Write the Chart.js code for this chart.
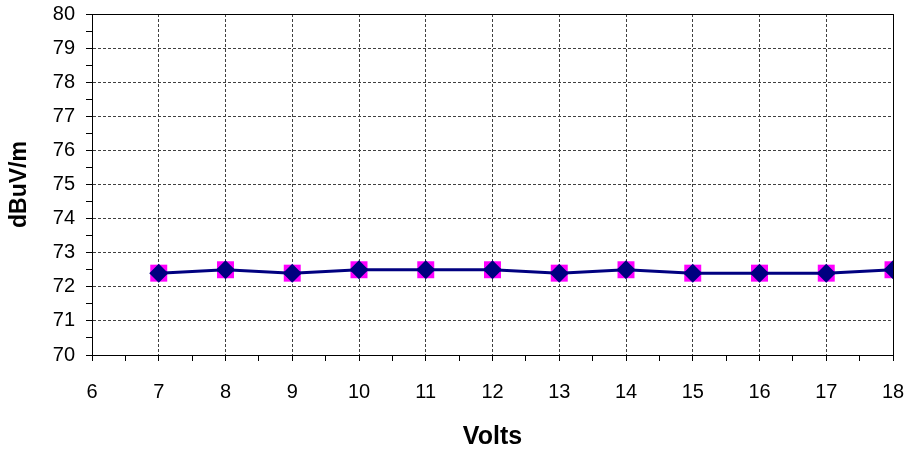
<!DOCTYPE html>
<html>
<head>
<meta charset="utf-8">
<script src="https://cdn.jsdelivr.net/npm/chart.js@4/dist/chart.umd.min.js"></script>
<style>
  html, body { margin: 0; padding: 0; background: #fff; }
  #wrap { width: 910px; height: 452px; }
</style>
</head>
<body>
<div id="wrap"><canvas id="voltChart" width="910" height="452"></canvas></div>
<script>
const volts = [7, 8, 9, 10, 11, 12, 13, 14, 15, 16, 17, 18];
const fieldStrength = [72.4, 72.5, 72.4, 72.5, 72.5, 72.5, 72.4, 72.5, 72.4, 72.4, 72.4, 72.5];
const xRange = [6, 18];
const yRange = [70, 80];

const points = volts.map((v, i) => ({ x: v, y: fieldStrength[i] }));

const gridColor = "#404040";
const fontFamily = "'Liberation Sans', Arial, sans-serif";
const isMajor = (ctx) => Number.isInteger(ctx.tick?.value);

// solid frame on the top and right edges of the plot
const framePlugin = {
  id: "frame",
  afterDraw(chart) {
    const { ctx, chartArea: a } = chart;
    ctx.save();
    ctx.strokeStyle = "#000";
    ctx.lineWidth = 1;
    ctx.beginPath();
    ctx.moveTo(a.left, a.top + 0.5);
    ctx.lineTo(a.right + 0.5, a.top + 0.5);
    ctx.lineTo(a.right + 0.5, a.bottom);
    ctx.stroke();
    ctx.restore();
  }
};

new Chart(document.querySelector("#voltChart"), {
  type: "line",
  data: {
    datasets: [
      {
        data: points,
        borderColor: "#000080",
        borderWidth: 3,
        pointStyle: "rectRot",
        pointRadius: 9.5,
        pointBackgroundColor: "#000080",
        pointBorderWidth: 0,
        tension: 0,
        order: 1
      },
      {
        data: points,
        showLine: false,
        pointStyle: "rect",
        pointRadius: 12,
        pointBackgroundColor: "#ff00ff",
        pointBorderWidth: 0,
        order: 2
      }
    ]
  },
  options: {
    responsive: false,
    animation: false,
    layout: { padding: { top: 14, right: 17, left: 0, bottom: 0 } },
    plugins: { legend: { display: false }, tooltip: { enabled: false } },
    scales: {
      x: {
        type: "linear",
        min: xRange[0],
        max: xRange[1],
        afterFit(scale) {
          scale.height = 97;
          scale.paddingLeft = 0;
          scale.paddingRight = 0;
        },
        ticks: {
          stepSize: 0.5,
          autoSkip: false,
          maxRotation: 0,
          padding: 19,
          color: "#000",
          font: { family: fontFamily, size: 20 },
          callback: (v) => (Number.isInteger(v) ? v : "")
        },
        grid: {
          color: (ctx) => (isMajor(ctx) ? gridColor : "rgba(0,0,0,0)"),
          tickColor: "#000",
          tickLength: 6
        },
        border: { color: "#000", width: 1, dash: [3, 2] },
        title: {
          display: true,
          text: "Volts",
          color: "#000",
          padding: { top: 0, bottom: 0 },
          font: { family: fontFamily, size: 25, weight: "bold" }
        }
      },
      y: {
        min: yRange[0],
        max: yRange[1],
        afterFit(scale) {
          scale.width = 92;
          scale.paddingTop = 0;
          scale.paddingBottom = 0;
        },
        ticks: {
          stepSize: 0.5,
          autoSkip: false,
          padding: 11,
          color: "#000",
          font: { family: fontFamily, size: 20 },
          callback: (v) => (Number.isInteger(v) ? v : "")
        },
        grid: {
          color: (ctx) => (isMajor(ctx) ? gridColor : "rgba(0,0,0,0)"),
          tickColor: "#000",
          tickLength: 6
        },
        border: { color: "#000", width: 1, dash: [3, 2] },
        title: {
          display: true,
          text: "dBuV/m",
          color: "#000",
          padding: { top: 6, bottom: 0 },
          font: { family: fontFamily, size: 23, weight: "bold" }
        }
      }
    }
  },
  plugins: [framePlugin]
});
</script>
</body>
</html>
